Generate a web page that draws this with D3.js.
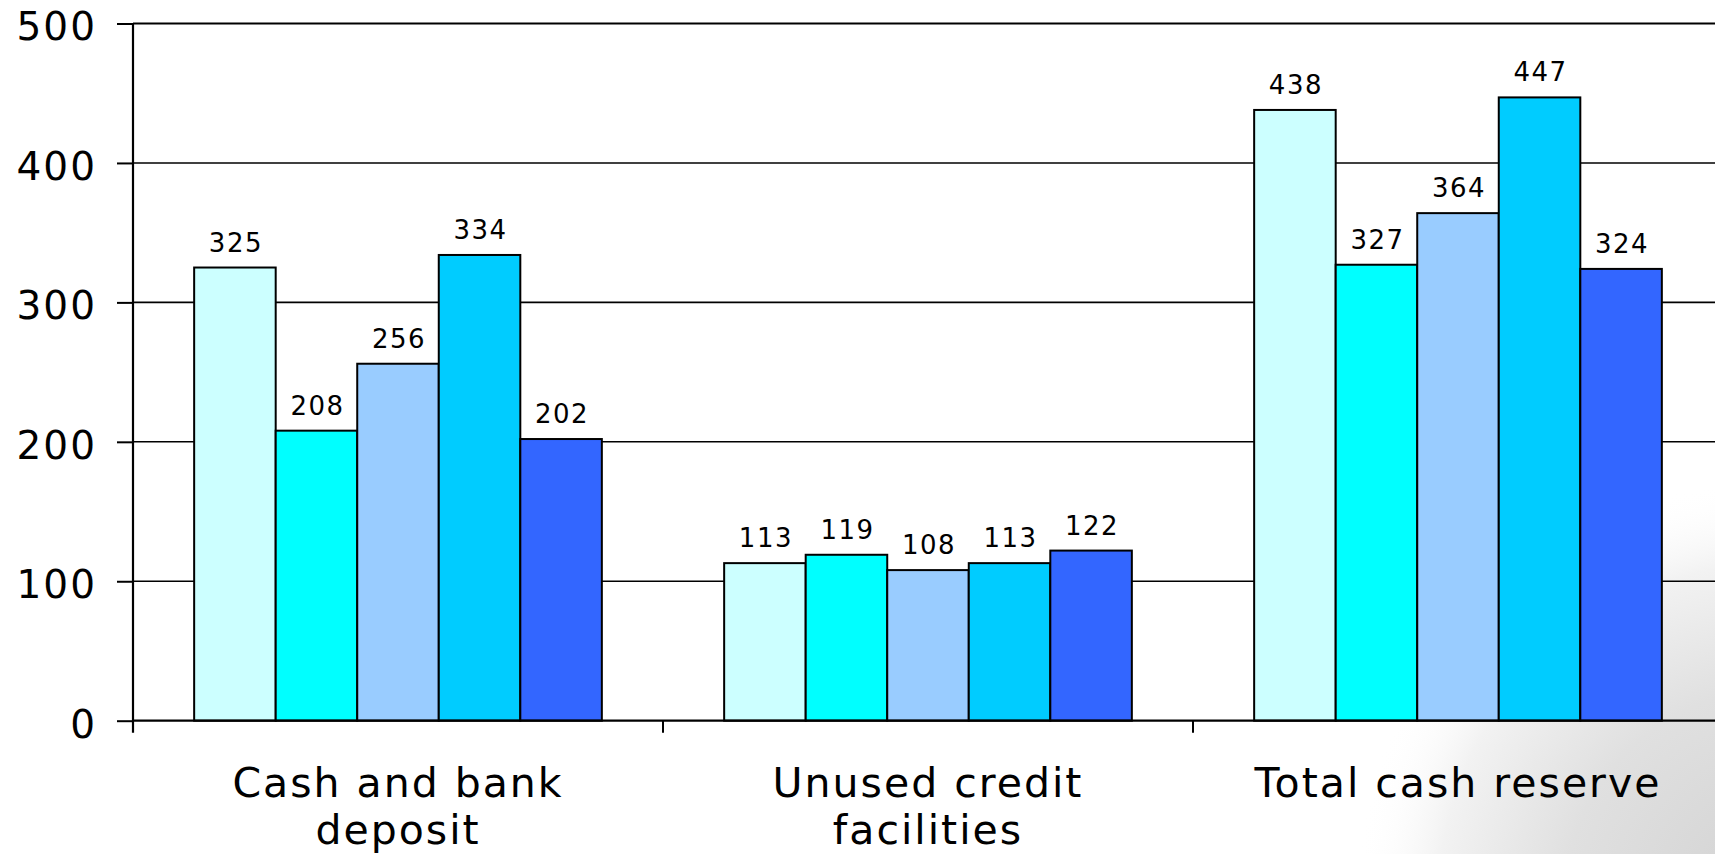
<!DOCTYPE html>
<html>
<head>
<meta charset="utf-8">
<script src="https://cdn.jsdelivr.net/npm/d3@7"></script>
<style>
  html, body { margin: 0; padding: 0; background: #ffffff; }
  svg { display: block; }
  text { font-family: "DejaVu Sans", Verdana, sans-serif; fill: #000; }
</style>
</head>
<body>
<svg id="chart" width="1715" height="854"></svg>
<script>
// ---- data ----
const categories = ["Cash and bank deposit", "Unused credit facilities", "Total cash reserve"];
const seriesNames = ["S1", "S2", "S3", "S4", "S5"];
const series1 = [325, 113, 438];
const series2 = [208, 119, 327];
const series3 = [256, 108, 364];
const series4 = [334, 113, 447];
const series5 = [202, 122, 324];
const seriesColors = ["#CCFFFF", "#00FFFF", "#99CCFF", "#00CCFF", "#3366FF"];
const yTicks = [0, 100, 200, 300, 400, 500];

const allSeries = [series1, series2, series3, series4, series5];

// ---- layout ----
const W = 1715, H = 854;
const mLeft = 133, mTop = 23.5, mBottom = 720.7;
const bandW = 530;
const svg = d3.select("#chart");

// background texture imitation (bottom-right)
const defs = svg.append("defs");
const rg = defs.append("radialGradient").attr("id", "tex")
  .attr("cx", 1775).attr("cy", 900).attr("r", 420)
  .attr("gradientUnits", "userSpaceOnUse");
rg.append("stop").attr("offset", "0").attr("stop-color", "#d2d2d2");
rg.append("stop").attr("offset", "0.5").attr("stop-color", "#e0e0e0");
rg.append("stop").attr("offset", "0.8").attr("stop-color", "#f2f2f2");
rg.append("stop").attr("offset", "1").attr("stop-color", "#ffffff").attr("stop-opacity", 0);
svg.append("rect").attr("x", 0).attr("y", 0).attr("width", W).attr("height", H).attr("fill", "#fff");
svg.append("rect").attr("x", 1300).attr("y", 440).attr("width", 415).attr("height", 414).attr("fill", "url(#tex)");

const x = d3.scaleBand().domain(categories).range([mLeft, mLeft + bandW * categories.length]).padding(0);
const barW = x.bandwidth() / 6.5;
const xi = d3.scaleBand().domain(seriesNames)
  .range([barW * 0.75, x.bandwidth() - barW * 0.75]).padding(0);
const y = d3.scaleLinear().domain([0, 500]).range([mBottom, mTop]);

// gridlines
svg.append("g").selectAll("line").data(yTicks.filter(d => d > 0)).join("line")
  .attr("x1", mLeft).attr("x2", W)
  .attr("y1", d => y(d)).attr("y2", d => y(d))
  .attr("stroke", "#000").attr("stroke-width", d => d === 500 ? 2.2 : 1.6);

// bars
const groups = svg.append("g").selectAll("g").data(categories).join("g")
  .attr("transform", d => `translate(${x(d)},0)`);

groups.each(function(cat, ci) {
  const g = d3.select(this);
  const vals = allSeries.map((s, si) => ({ name: seriesNames[si], v: s[ci], c: seriesColors[si] }));
  g.selectAll("rect").data(vals).join("rect")
    .attr("x", d => xi(d.name))
    .attr("y", d => y(d.v))
    .attr("width", xi.bandwidth())
    .attr("height", d => y(0) - y(d.v))
    .attr("fill", d => d.c)
    .attr("stroke", "#000").attr("stroke-width", 2);
  g.selectAll("text.lbl").data(vals).join("text").attr("class", "lbl")
    .attr("x", d => xi(d.name) + xi.bandwidth() / 2 + 1)
    .attr("y", d => y(d.v) - 16)
    .attr("text-anchor", "middle")
    .style("font-size", "26px").style("letter-spacing", "1.5px")
    .text(d => d.v);
});

// y axis
const yAxis = svg.append("g").attr("transform", `translate(${mLeft},0)`)
  .call(d3.axisLeft(y).tickValues(yTicks).tickSize(16).tickPadding(20).tickFormat(d3.format("d")));
yAxis.select(".domain").remove();
yAxis.append("line").attr("x1", 0).attr("x2", 0).attr("y1", mTop).attr("y2", mBottom + 12)
  .attr("stroke", "#000").attr("stroke-width", 2.2);
yAxis.selectAll(".tick line").attr("stroke", "#000").attr("stroke-width", 2);
yAxis.selectAll(".tick text").attr("fill", "#000")
  .style("font-family", "'DejaVu Sans', Verdana, sans-serif")
  .style("font-size", "39px").style("letter-spacing", "2px")
  .attr("dy", "0.42em");

// x axis
const xAxisG = svg.append("g");
xAxisG.append("line").attr("x1", mLeft).attr("x2", W).attr("y1", mBottom).attr("y2", mBottom)
  .attr("stroke", "#000").attr("stroke-width", 2.2);
const boundaries = categories.map((c, i) => x(c)).slice(1);
xAxisG.selectAll("line.tk").data(boundaries).join("line").attr("class", "tk")
  .attr("x1", d => d).attr("x2", d => d).attr("y1", mBottom).attr("y2", mBottom + 12)
  .attr("stroke", "#000").attr("stroke-width", 2);

// category labels (wrapped)
const maxW = 470;
categories.forEach(cat => {
  const cx = x(cat) + x.bandwidth() / 2;
  const t = xAxisG.append("text")
    .attr("x", cx)
    .attr("y", 797)
    .attr("text-anchor", "middle")
    .style("font-size", "41px").style("letter-spacing", "2px");
  const words = cat.split(" ");
  let line = [];
  let tspan = t.append("tspan").attr("x", cx).attr("dy", 0);
  words.forEach(w => {
    line.push(w);
    tspan.text(line.join(" "));
    if (tspan.node().getComputedTextLength() > maxW && line.length > 1) {
      line.pop();
      tspan.text(line.join(" "));
      line = [w];
      tspan = t.append("tspan").attr("x", cx).attr("dy", 47).text(w);
    }
  });
});
</script>
</body>
</html>
